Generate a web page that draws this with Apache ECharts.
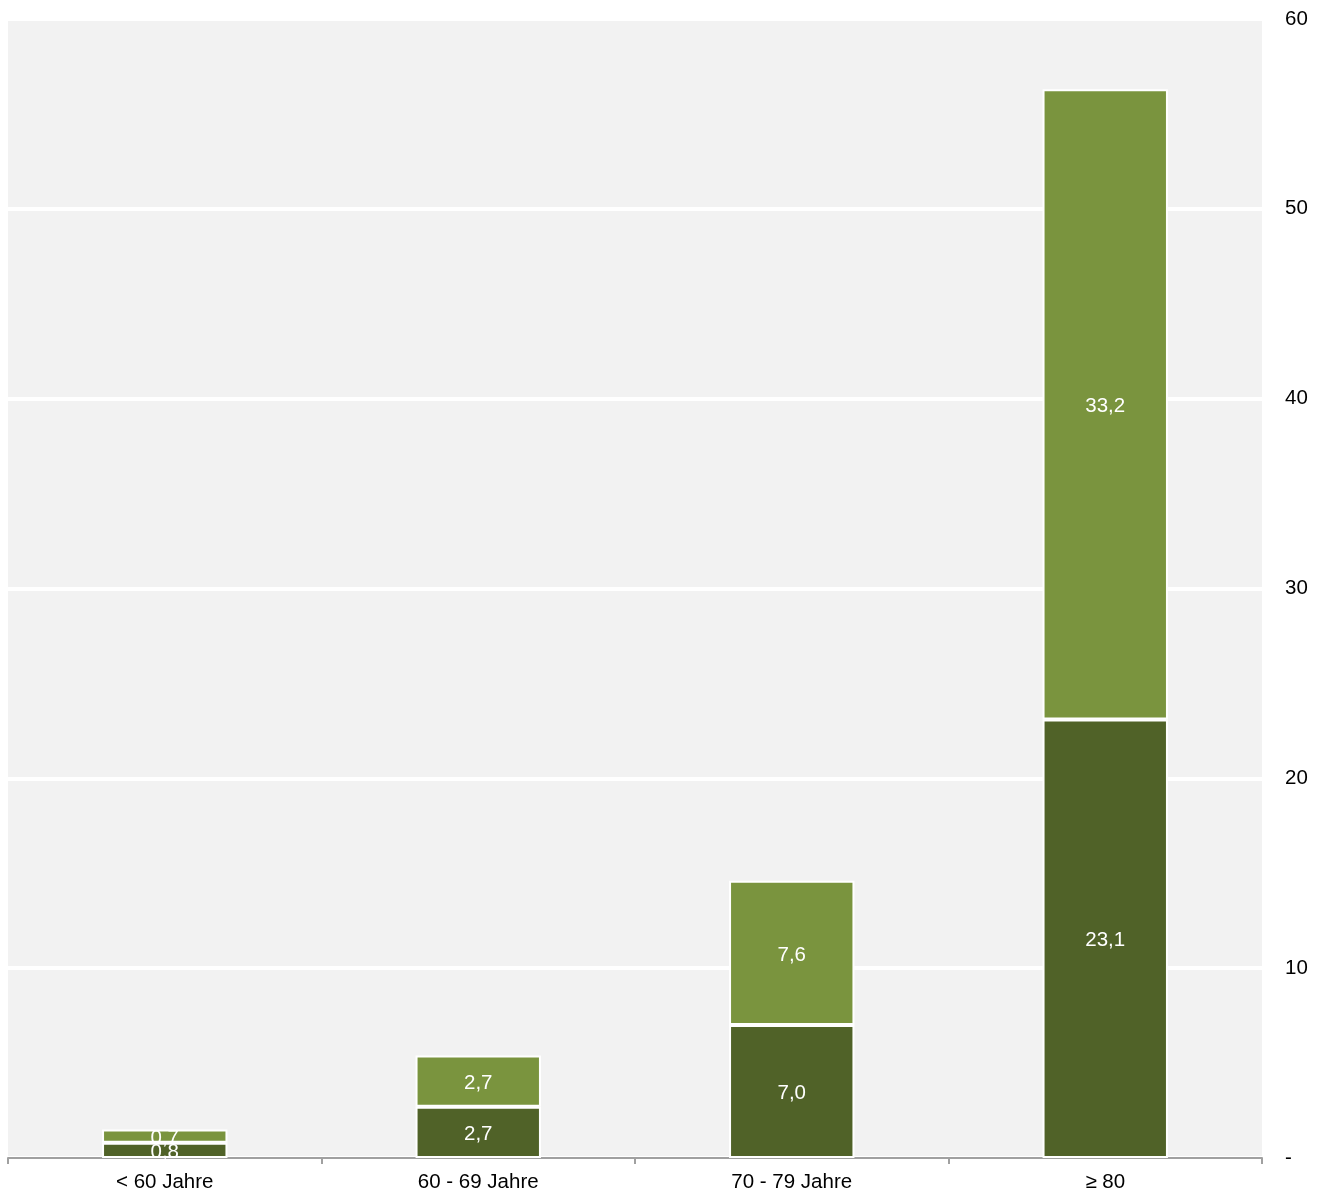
<!DOCTYPE html>
<html>
<head>
<meta charset="utf-8">
<script src="https://cdn.jsdelivr.net/npm/echarts@6/dist/echarts.min.js"></script>
<style>
html,body{margin:0;padding:0;background:#fff;}
#chart{width:1323px;height:1193px;}
</style>
</head>
<body>
<div id="chart"></div>
<script>
// Age groups and the two stacked components
const categories = ['< 60 Jahre', '60 - 69 Jahre', '70 - 79 Jahre', '≥ 80'];
const lowerValues = [0.8, 2.7, 7.0, 23.1];
const upperValues = [0.7, 2.7, 7.6, 33.2];
const yTicks = { min: 0, max: 60, interval: 10 };

const fmt = v => v.toFixed(1).replace('.', ',');
const font = '"Liberation Sans", Arial, sans-serif';

const chart = echarts.init(document.getElementById('chart'));
const labelStyle = {
  show: true,
  position: 'inside',
  offset: [0, 2],
  color: '#ffffff',
  fontSize: 20.5,
  fontFamily: font,
  formatter: p => fmt(p.value)
};
chart.setOption({
  animation: false,
  grid: {
    left: 8, right: 61, top: 19, bottom: 35,
    show: true, backgroundColor: '#f2f2f2', borderWidth: 0
  },
  xAxis: {
    type: 'category',
    data: categories,
    axisLine: { lineStyle: { color: '#a0a0a0', width: 2 } },
    axisTick: { show: true, length: 6, lineStyle: { color: '#a0a0a0', width: 2 } },
    axisLabel: { color: '#000', fontSize: 20.5, fontFamily: font, margin: 14 }
  },
  yAxis: {
    type: 'value',
    position: 'right',
    min: yTicks.min, max: yTicks.max, interval: yTicks.interval,
    axisLine: { show: false },
    axisTick: { show: false },
    splitLine: { lineStyle: { color: '#ffffff', width: 4 } },
    axisLabel: {
      color: '#000', fontSize: 20.5, fontFamily: font, margin: 23,
      padding: [4, 0, 0, 0],
      formatter: v => v === 0 ? '-' : String(v)
    }
  },
  series: [
    {
      type: 'bar', stack: 'total', data: lowerValues, barWidth: '40%',
      itemStyle: { color: '#506228', borderColor: '#ffffff', borderWidth: 2 },
      label: labelStyle
    },
    {
      type: 'bar', stack: 'total', data: upperValues, barWidth: '40%',
      itemStyle: { color: '#7a943e', borderColor: '#ffffff', borderWidth: 2 },
      label: labelStyle
    }
  ]
});
</script>
</body>
</html>
